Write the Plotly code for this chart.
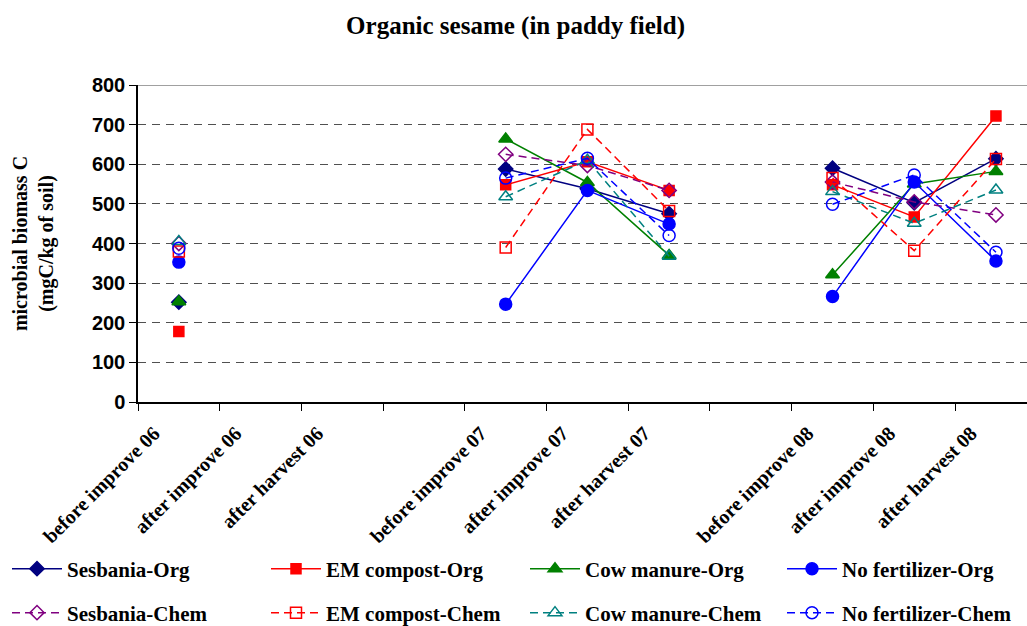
import plotly.graph_objects as go

categories = ["before improve 06", "after improve 06", "after harvest 06", "",
              "before improve 07", "after improve 07", "after harvest 07", "",
              "before improve 08", "after improve 08", "after harvest 08"]

sesbania_org = [252, None, None, None, 588, 538, 475, None, 590, 503, 614]
em_org = [178, None, None, None, 548, 606, 534, None, 548, 467, 722]
cow_org = [253, None, None, None, 664, 554, 370, None, 321, 550, 582]
nofert_org = [353, None, None, None, 247, 534, 449, None, 266, 555, 356]
sesbania_chem = [400, None, None, None, 625, 597, 534, None, 555, 505, 472]
em_chem = [380, None, None, None, 390, 688, 482, None, 565, 382, 613]
cow_chem = [405, None, None, None, 518, 610, 368, None, 531, 451, 535]
nofert_chem = [388, None, None, None, 565, 615, 420, None, 499, 573, 378]

series = [
    ("Sesbania-Org", sesbania_org, "#000080", "diamond", "solid", 11),
    ("EM compost-Org", em_org, "#FF0000", "square", "solid", 10),
    ("Cow manure-Org", cow_org, "#008000", "triangle-up", "solid", 12),
    ("No fertilizer-Org", nofert_org, "#0000FF", "circle", "solid", 12),
    ("Sesbania-Chem", sesbania_chem, "#800080", "diamond-open", "dash", 11),
    ("EM compost-Chem", em_chem, "#FF0000", "square-open", "dash", 11),
    ("Cow manure-Chem", cow_chem, "#008080", "triangle-up-open", "dash", 12),
    ("No fertilizer-Chem", nofert_chem, "#0000FF", "circle-open", "dash", 12),
]

xpos = [i + 0.5 for i in range(len(categories))]

serif = "Liberation Serif, Times New Roman, serif"
sans = "Liberation Sans, Arial, sans-serif"

W, H = 1027, 626
ML, MR, MT, MB = 138, 0, 85, 224
PW, PH = W - ML - MR, H - MT - MB

# legend placement (px): column left edges, row centres
leg_cols = [7, 266, 525, 782]
leg_rows = [569, 613]

fig = go.Figure()
legend_layouts = {}
for k, (name, vals, color, sym, dash, size) in enumerate(series):
    leg_id = "legend" if k == 0 else "legend%d" % (k + 1)
    fig.add_trace(go.Scatter(
        x=xpos, y=vals, name="<b>%s</b>" % name, mode="lines+markers",
        connectgaps=False, legend=leg_id, showlegend=True,
        line=dict(color=color, width=1.5, dash="8px,5px" if dash == "dash" else "solid"),
        marker=dict(symbol=sym, size=size, color=color, line=dict(color=color, width=1.5)),
    ))
    legend_layouts[leg_id] = dict(
        xref="paper", yref="paper", orientation="h",
        x=(leg_cols[k % 4] - ML) / PW, xanchor="left",
        y=(H - MB - leg_rows[k // 4]) / PH, yanchor="middle",
        itemwidth=50, font=dict(family=serif, size=21, color="black"),
        bgcolor="rgba(0,0,0,0)")

fig.update_layout(
    width=W, height=H, showlegend=True,
    margin=dict(l=ML, r=MR, t=MT, b=MB, autoexpand=False),
    paper_bgcolor="white", plot_bgcolor="white",
    title=dict(text="<b>Organic sesame (in paddy field)</b>", x=0.502, xanchor="center",
               y=1 - 25 / H, yanchor="middle", xref="container", yref="container",
               font=dict(family=serif, size=25, color="black")),
    xaxis=dict(range=[0, 10.88], tickmode="array", tickvals=list(range(len(categories))),
               ticktext=["<b>%s</b>" % c for c in categories], tickangle=-45,
               ticks="outside", ticklen=7, tickcolor="black", tickwidth=1.2,
               showline=True, linecolor="black", linewidth=1.5, showgrid=False,
               zeroline=False, ticklabelshift=16, ticklabelstandoff=3,
               tickfont=dict(family=serif, size=20, color="black")),
    yaxis=dict(range=[0, 800], dtick=100, ticks="outside", ticklen=7, tickcolor="black",
               tickwidth=1.2, showline=True, linecolor="black", linewidth=1.5,
               showgrid=True, gridcolor="#505050", gridwidth=1, griddash="8px,6px",
               zeroline=False, tickfont=dict(family=sans, size=20, color="black"),
               tickprefix="<b>", ticksuffix="</b>",
               title=dict(text="<b>microbial biomass C<br>(mgC/kg of soil)</b>",
                          standoff=33, font=dict(family=serif, size=20, color="black"))),
    shapes=[dict(type="line", xref="paper", yref="y", x0=0, x1=1, y0=800, y1=800,
                 line=dict(color="#808080", width=1.5), layer="above")],
    **legend_layouts,
)

fig.write_html("out.html", config={"displayModeBar": False},
               post_script="document.body.style.margin='0';")
